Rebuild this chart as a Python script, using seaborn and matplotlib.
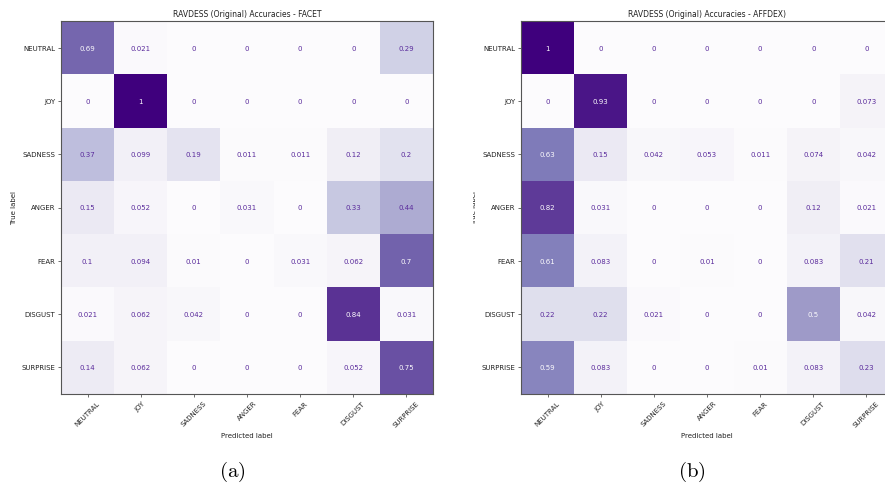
import numpy as np
import pandas as pd
import matplotlib
matplotlib.use("Agg")
import matplotlib.pyplot as plt
from matplotlib.transforms import Bbox, TransformedBbox
import seaborn as sns

plt.rcParams["mathtext.fontset"] = "cm"
plt.rcParams["font.family"] = ["DejaVu Sans"]

emotions = ["NEUTRAL", "JOY", "SADNESS", "ANGER", "FEAR", "DISGUST", "SURPRISE"]

facet_acc = [
    [0.69, 0.021, 0, 0, 0, 0, 0.29],
    [0, 1, 0, 0, 0, 0, 0],
    [0.37, 0.099, 0.19, 0.011, 0.011, 0.12, 0.2],
    [0.15, 0.052, 0, 0.031, 0, 0.33, 0.44],
    [0.1, 0.094, 0.01, 0, 0.031, 0.062, 0.7],
    [0.021, 0.062, 0.042, 0, 0, 0.84, 0.031],
    [0.14, 0.062, 0, 0, 0, 0.052, 0.75],
]

affdex_acc = [
    [1, 0, 0, 0, 0, 0, 0],
    [0, 0.93, 0, 0, 0, 0, 0.073],
    [0.63, 0.15, 0.042, 0.053, 0.011, 0.074, 0.042],
    [0.82, 0.031, 0, 0, 0, 0.12, 0.021],
    [0.61, 0.083, 0, 0.01, 0, 0.083, 0.21],
    [0.22, 0.22, 0.021, 0, 0, 0.5, 0.042],
    [0.59, 0.083, 0, 0, 0.01, 0.083, 0.23],
]

titles = ["RAVDESS (Original) Accuracies - FACET",
          "RAVDESS (Original) Accuracies - AFFDEX)"]
captions = ["(a)", "(b)"]

W, H = 885, 489
fig = plt.figure(figsize=(W / 100, H / 100), dpi=100)
cmap = plt.get_cmap("Purples")

panels = [
    (facet_acc, 61, titles[0], captions[0]),
    (affdex_acc, 521, titles[1], captions[1]),
]

fs = 5.0
light_txt = cmap(0.0)
dark_txt = "#5a2b9c"
for k, (mat, left_px, title, cap) in enumerate(panels):
    df = pd.DataFrame(mat, index=emotions, columns=emotions)
    ax = fig.add_axes([left_px / W, 1 - 395 / H, 372 / W, 373 / H])
    sns.heatmap(df, ax=ax, cmap="Purples", vmin=0, vmax=1, annot=True,
                fmt=".2g", cbar=False, annot_kws={"fontsize": fs})
    # light text on dark cells, purple text on pale cells
    thresh = 0.5
    vals = np.asarray(mat).ravel()
    for t, v in zip(ax.texts, vals):
        t.set_color(light_txt if v >= thresh else dark_txt)
    for s in ax.spines.values():
        s.set_visible(True)
        s.set_color("#555555")
        s.set_linewidth(0.8)
    ax.tick_params(axis="both", length=2.5, width=0.6, color="#555555",
                   labelsize=fs, pad=1.5, labelcolor="#222222")
    ax.set_yticklabels(emotions, rotation=0)
    ax.set_xticklabels(emotions, rotation=45, ha="center")
    ax.set_title(title, fontsize=5.5, pad=3.5, color="#222222")
    ax.set_xlabel("Predicted label", fontsize=fs, labelpad=3, color="#222222")
    ax.set_ylabel("")
    ylab = fig.text((left_px - 46.5) / W, 1 - 208.5 / H, "True label",
                    rotation=90, ha="center", va="center", fontsize=fs,
                    color="#222222")
    if k == 1:
        clip = TransformedBbox(Bbox([[473.5 / W, 0], [1, 1]]), fig.transFigure)
        ylab.set_clip_box(clip)
        ylab.set_clip_on(True)
    fig.text((left_px + 171) / W, 1 - 472 / H, r"$\mathrm{" + cap + "}$",
             ha="center", va="center", fontsize=15)

fig.savefig("out.png", dpi=100)
